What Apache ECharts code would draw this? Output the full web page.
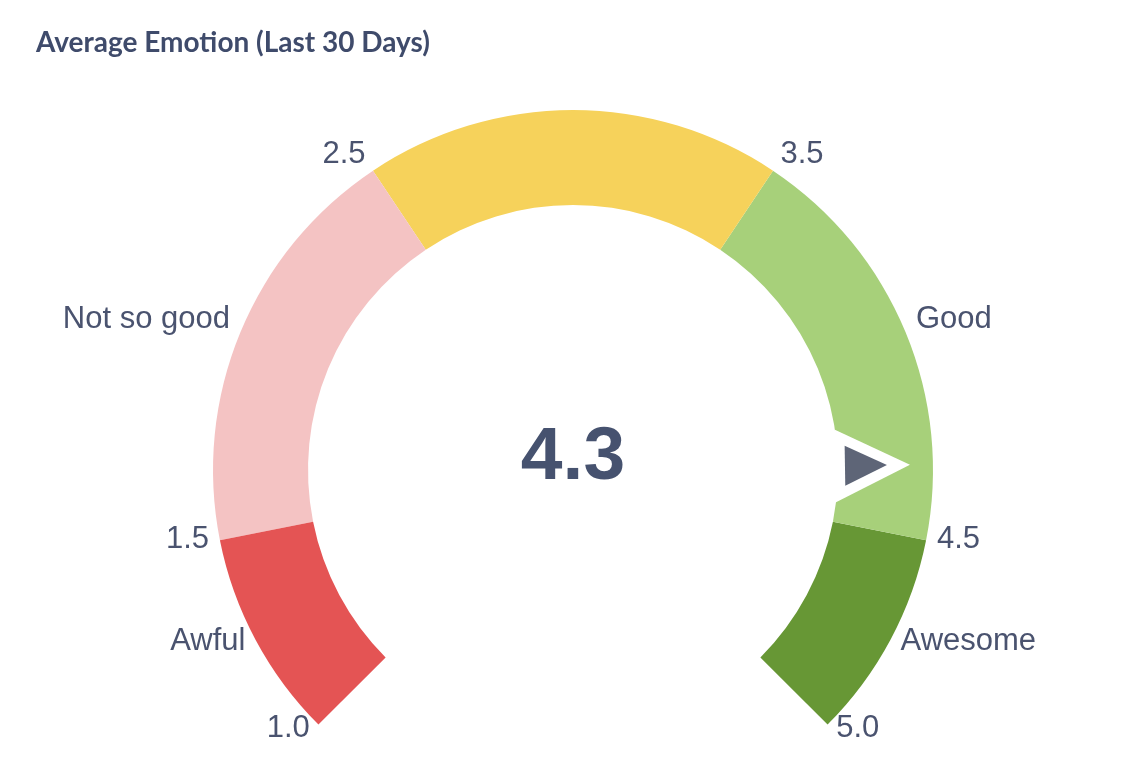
<!DOCTYPE html>
<html>
<head>
<meta charset="utf-8">
<title>Average Emotion</title>
<script src="https://cdn.jsdelivr.net/npm/echarts@6/dist/echarts.min.js"></script>
<style>
  html, body { margin: 0; padding: 0; background: #fff; }
  #chart { width: 1145px; height: 773px; }
</style>
</head>
<body>
<div id="chart"></div>
<script>
const chart = echarts.init(document.getElementById('chart'));

// scale and bands
const minValue = 1;
const maxValue = 5;
const bandEdges = [1, 1.5, 2.5, 3.5, 4.5, 5];
const bandNames = ['Awful', 'Not so good', '', 'Good', 'Awesome'];
const bandColors = ['#e45454', '#f4c3c3', '#f6d25b', '#a7d07a', '#679735'];

// current average
const averageValue = 4.32;

const CX = 573, CY = 470;
const textColor = '#4a536f';

const lineStops = bandColors.map((c, i) => [(bandEdges[i + 1] - minValue) / (maxValue - minValue), c]);

// labels outside the ring: tick values + band names at band middles
const labelItems = [];
bandEdges.forEach(v => labelItems.push({ name: v.toFixed(1), v }));
bandNames.forEach((n, i) => {
  if (n) labelItems.push({ name: n, v: (bandEdges[i] + bandEdges[i + 1]) / 2 });
});

const angleOf = v => 225 - (v - minValue) / (maxValue - minValue) * 270;

const labelData = labelItems.map(d => {
  const a = angleOf(d.v);
  const left = Math.cos(a * Math.PI / 180) < 0;
  return {
    name: d.name,
    value: [1, d.v],
    label: {
      position: left ? 'left' : 'right',
      offset: [0, a < 180 && a > 0 ? -10 : -2]
    }
  };
});

const triangle = 'path://M0,10L5,0L10,10Z';

chart.setOption({
  animation: false,
  backgroundColor: '#fff',
  title: {
    text: 'Average Emotion (Last 30 Days)',
    left: 31,
    top: 24,
    textStyle: {
      fontFamily: 'Lato',
      fontWeight: 'bold',
      fontSize: 28,
      color: '#3f4b6b'
    }
  },
  polar: { center: [CX, CY], radius: 368 },
  angleAxis: {
    type: 'value', min: minValue, max: maxValue,
    startAngle: 225, endAngle: -45, clockwise: true, show: false
  },
  radiusAxis: { type: 'value', min: 0, max: 1, show: false },
  series: [
    {
      type: 'gauge',
      center: [CX, CY],
      radius: 360,
      startAngle: 225,
      endAngle: -45,
      min: minValue,
      max: maxValue,
      axisLine: { lineStyle: { width: 95, color: lineStops } },
      splitLine: { show: false },
      axisTick: { show: false },
      axisLabel: { show: false },
      anchor: { show: false },
      title: { show: false },
      detail: { show: false },
      pointer: {
        icon: triangle,
        width: 73,
        length: 75,
        offsetCenter: [0, -262],
        itemStyle: { color: '#ffffff' }
      },
      data: [{ value: averageValue }]
    },
    {
      type: 'gauge',
      center: [CX, CY],
      radius: 360,
      startAngle: 225,
      endAngle: -45,
      min: minValue,
      max: maxValue,
      axisLine: { show: false },
      splitLine: { show: false },
      axisTick: { show: false },
      axisLabel: { show: false },
      anchor: { show: false },
      title: { show: false },
      pointer: {
        icon: triangle,
        width: 40,
        length: 42,
        offsetCenter: [0, -272],
        itemStyle: { color: '#5e6577' }
      },
      detail: {
        offsetCenter: [0, -12],
        formatter: v => v.toFixed(1),
        fontFamily: 'Liberation Sans',
        fontWeight: 'bold',
        fontSize: 75,
        color: '#46526f'
      },
      data: [{ value: averageValue }]
    },
    {
      type: 'scatter',
      coordinateSystem: 'polar',
      symbolSize: 0,
      clip: false,
      silent: true,
      itemStyle: { opacity: 1 },
      label: {
        show: true,
        formatter: '{b}',
        distance: 3,
        fontFamily: 'Liberation Sans',
        fontSize: 31,
        color: textColor
      },
      data: labelData
    }
  ]
});
</script>
</body>
</html>
